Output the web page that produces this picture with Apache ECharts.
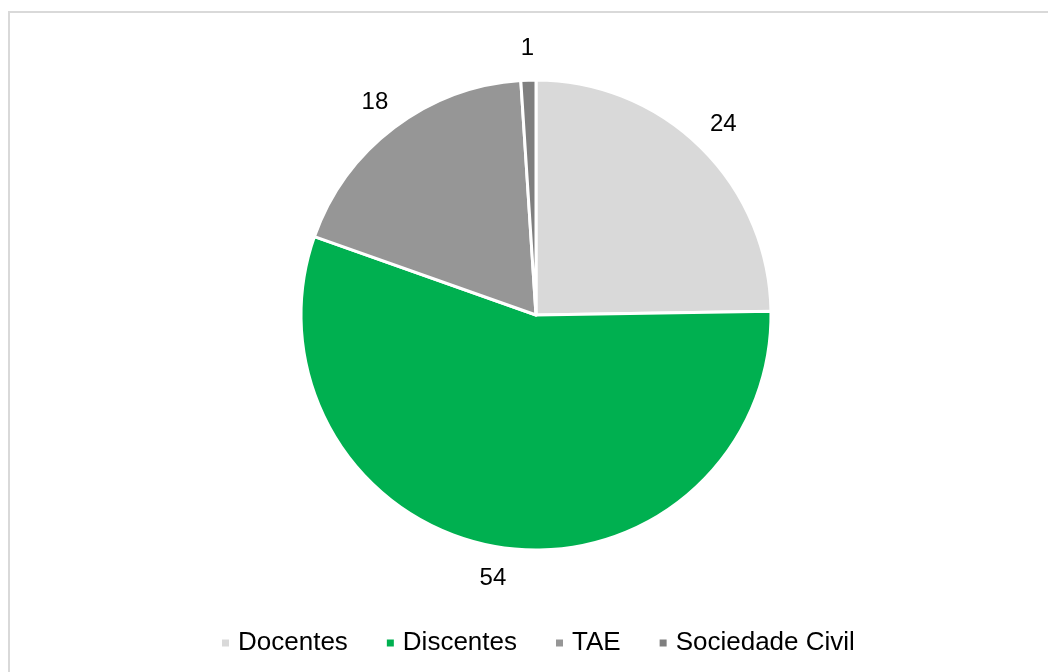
<!DOCTYPE html>
<html>
<head>
<meta charset="utf-8">
<script src="https://cdn.jsdelivr.net/npm/echarts@6/dist/echarts.min.js"></script>
<style>
  html, body { margin: 0; padding: 0; background: #fff; overflow: hidden; }
  #frame {
    position: absolute; left: 8px; top: 11px;
    width: 1100px; height: 700px;
    border: 2px solid #d9d9d9;
  }
  #chart { position: absolute; left: 0; top: 0; width: 1048px; height: 672px; }
</style>
</head>
<body>
<div id="frame"></div>
<div id="chart"></div>
<script>
const categories = ['Docentes', 'Discentes', 'TAE', 'Sociedade Civil']
const values = [24, 54, 18, 1]
const colors = ['#d9d9d9', '#00b050', '#969696', '#7f7f7f']

const myChart = echarts.init(document.getElementById('chart'))

const pieData = categories.map((name, i) => ({
  name,
  value: values[i],
  itemStyle: { color: colors[i] }
}))

const option = {
  animation: false,
  legend: {
    top: 625,
    left: 215,
    icon: 'rect',
    itemWidth: 9,
    itemHeight: 9,
    itemGap: 37,
    textStyle: {
      fontFamily: 'Liberation Sans, Arial, sans-serif',
      fontSize: 26,
      color: '#000',
      padding: [0, 0, 0, 3]
    },
    data: categories
  },
  series: [
    {
      type: 'pie',
      center: [536, 315],
      radius: [0, 235],
      startAngle: 90,
      clockwise: true,
      label: { show: false },
      labelLine: { show: false },
      itemStyle: { borderColor: '#fff', borderWidth: 3 },
      emphasis: { disabled: true },
      data: pieData
    },
    {
      // ring just for the value labels outside the pie
      type: 'pie',
      center: [536, 315],
      radius: [244, 284],
      startAngle: 90,
      clockwise: true,
      silent: true,
      legendHoverLink: false,
      itemStyle: { color: 'transparent' },
      label: {
        show: true,
        position: 'inside',
        formatter: '{c}',
        fontFamily: 'Liberation Sans, Arial, sans-serif',
        fontSize: 24,
        color: '#000'
      },
      labelLine: { show: false },
      emphasis: { disabled: true },
      data: categories.map((name, i) => ({ name: name + ' ', value: values[i] }))
    }
  ]
}

myChart.setOption(option)
</script>
</body>
</html>
